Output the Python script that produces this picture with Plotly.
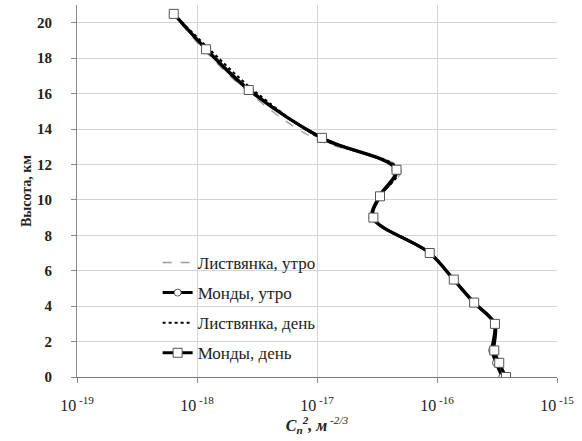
import plotly.graph_objects as go

heights = [0, 0.8, 1.5, 3.0, 4.2, 5.5, 7.0, 9.0, 10.2, 11.7, 13.5, 16.2, 18.5, 20.5]

listv_morning = [3.55e-16, 3.15e-16, 2.9e-16, 2.98e-16, 2.0e-16, 1.36e-16, 8.6e-17,
                 2.85e-17, 3.3e-17, 5.0e-17, 0.93e-17, 2.55e-18, 1.13e-18, 6.3e-19]
mondy_morning = [3.5e-16, 3.1e-16, 2.88e-16, 3.0e-16, 2.02e-16, 1.37e-16, 8.7e-17,
                 2.9e-17, 3.3e-17, 4.5e-17, 1.08e-17, 2.75e-18, 1.2e-18, 6.4e-19]
listv_day = [3.7e-16, 3.25e-16, 3.0e-16, 3.02e-16, 2.03e-16, 1.38e-16, 8.7e-17,
             2.95e-17, 3.35e-17, 4.8e-17, 1.05e-17, 2.95e-18, 1.27e-18, 6.4e-19]
mondy_day = [3.76e-16, 3.3e-16, 3.0e-16, 3.04e-16, 2.04e-16, 1.38e-16, 8.7e-17,
             2.95e-17, 3.35e-17, 4.6e-17, 1.1e-17, 2.7e-18, 1.19e-18, 6.4e-19]

x_tickvals = [1e-19, 1e-18, 1e-17, 1e-16, 1e-15]
x_ticktext = ["10<sup> -19</sup>", "10<sup> -18</sup>", "10<sup> -17</sup>",
              "10<sup> -16</sup>", "10<sup> -15</sup>"]
y_tickvals = [0, 2, 4, 6, 8, 10, 12, 14, 16, 18, 20]

FONT = "'Liberation Serif', 'Times New Roman', 'DejaVu Serif', serif"

fig = go.Figure()

fig.add_trace(go.Scatter(
    x=listv_morning, y=heights, mode="lines", name="Листвянка, утро",
    line=dict(color="#9a9a9a", width=1.3, dash="dash", shape="spline", smoothing=1),
    legendgroup="a"))
fig.add_trace(go.Scatter(
    x=mondy_morning, y=heights, mode="lines+markers", name="Монды, утро",
    line=dict(color="black", width=3, shape="spline", smoothing=1),
    marker=dict(symbol="circle", size=7, color="white", line=dict(color="#555", width=1)),
    legendgroup="b"))
fig.add_trace(go.Scatter(
    x=listv_day, y=heights, mode="lines", name="Листвянка, день",
    line=dict(color="black", width=2, dash="dot", shape="spline", smoothing=1),
    legendgroup="c"))
fig.add_trace(go.Scatter(
    x=mondy_day, y=heights, mode="lines+markers", name="Монды, день",
    line=dict(color="black", width=3, shape="spline", smoothing=1),
    marker=dict(symbol="square", size=9, color="white", line=dict(color="#555", width=1)),
    legendgroup="d"))

fig.update_layout(
    width=582, height=441,
    margin=dict(l=77, r=25, t=5, b=64, autoexpand=False),
    paper_bgcolor="white", plot_bgcolor="white",
    font=dict(family=FONT, color="black"),
    showlegend=True,
    legend=dict(x=0.168, y=0.355, xanchor="left", yanchor="top",
                bgcolor="rgba(255,255,255,0)", font=dict(family=FONT, size=17, color="#222"),
                traceorder="grouped", tracegroupgap=5, itemwidth=30),
)

fig.update_xaxes(
    type="log", range=[-19, -15], automargin=False,
    tickvals=x_tickvals, ticktext=x_ticktext,
    tickfont=dict(family=FONT, size=16, color="#222"),
    ticks="outside", ticklen=5, tickcolor="#888", ticklabelstandoff=9,
    showgrid=True, gridcolor="#d4d4d4", gridwidth=1,
    showline=True, linecolor="#777", linewidth=1,
    zeroline=False,
    title=dict(text="<b><i>C<sub>n</sub><sup>2</sup>, м</i></b><sup><i> -2/3</i></sup>",
               font=dict(family=FONT, size=16, color="#222"), standoff=0),
)
fig.update_yaxes(
    range=[0, 21], automargin=False,
    tickvals=y_tickvals,
    tickfont=dict(family=FONT, size=15, color="#222", weight="bold"),
    ticks="outside", ticklen=5, tickcolor="#888", ticklabelstandoff=16,
    showgrid=True, gridcolor="#d4d4d4", gridwidth=1,
    showline=True, linecolor="#888", linewidth=1,
    zeroline=False,
    title=dict(text="<b>Высота, км</b>", font=dict(family=FONT, size=14, color="#222"), standoff=2),
)

fig.write_html("out.html", config={"displayModeBar": False},
               post_script="document.body.style.margin='0';document.body.style.padding='0';")
